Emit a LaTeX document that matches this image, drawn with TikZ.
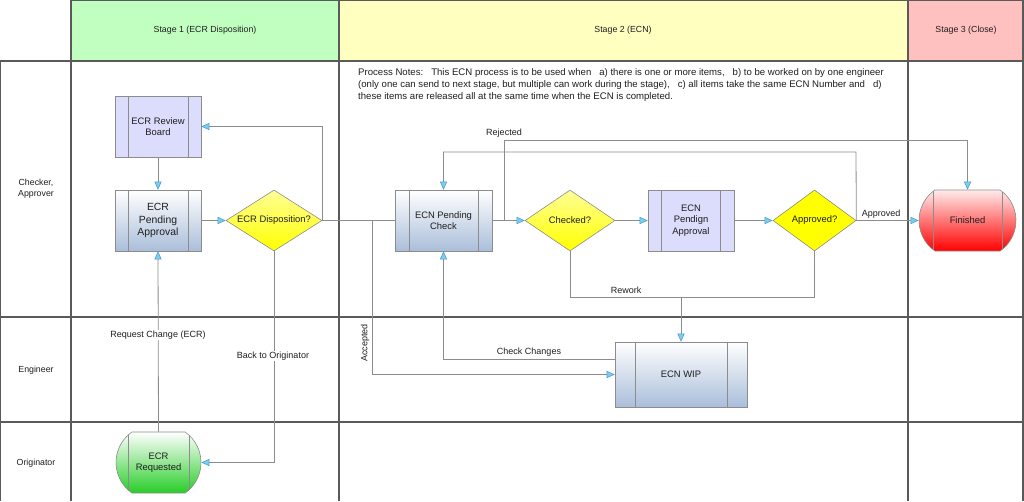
\documentclass[tikz,border=0pt]{standalone}
\usepackage{fontspec}
\setmainfont{Liberation Sans}
\usetikzlibrary{arrows.meta,shapes.geometric,shapes.misc}
\definecolor{linegray}{RGB}{140,140,140}
\definecolor{gridgray}{RGB}{90,90,90}
\definecolor{tipfill}{RGB}{120,205,240}
\definecolor{tipdraw}{RGB}{70,150,200}
\definecolor{lav}{RGB}{220,220,252}
\definecolor{steel}{RGB}{170,190,218}
\definecolor{hgreen}{RGB}{192,255,192}
\definecolor{hyellow}{RGB}{255,255,192}
\definecolor{hpink}{RGB}{255,192,192}
\definecolor{dyellow}{RGB}{255,255,0}
\definecolor{dyellowtop}{RGB}{255,255,150}
\definecolor{fred}{RGB}{255,0,0}
\definecolor{fredtop}{RGB}{255,235,235}
\definecolor{fgreen}{RGB}{40,205,40}
\definecolor{txt}{RGB}{30,30,30}
\begin{document}
\begin{tikzpicture}[x=1pt,y=-1pt,
  every node/.style={text=txt},
  base/.style={draw=linegray, line width=0.6pt, inner sep=0pt, align=center,
    font=\fontsize{9.4}{11.5}\selectfont},
  subp/.style={path picture={
    \draw[linegray, line width=0.6pt] ([xshift=#1]path picture bounding box.north west) -- ([xshift=#1]path picture bounding box.south west);
    \draw[linegray, line width=0.6pt] ([xshift=-#1]path picture bounding box.north east) -- ([xshift=-#1]path picture bounding box.south east);}},
  subp/.default=13pt,
  procbox/.style={base, rectangle},
  lavbox/.style={procbox, fill=lav},
  gradbox/.style={procbox, top color=white, bottom color=steel},
  decision/.style={base, diamond, aspect=1.57, top color=dyellowtop, bottom color=dyellow},
  terminal/.style={base, rounded rectangle, rounded rectangle arc length=110},
  flow/.style={draw=linegray, line width=0.8pt,
    -{Triangle[length=8pt,width=7pt,fill=tipfill,color=tipdraw,line width=0.5pt]}},
  plain/.style={draw=linegray, line width=0.8pt},
  lbl/.style={font=\fontsize{9}{11}\selectfont, inner sep=1pt},
  lblw/.style={lbl, fill=white},
  head/.style={font=\fontsize{8.8}{11}\selectfont},
  grid/.style={draw=gridgray, line width=1.1pt}
]
\useasboundingbox (0,0) rectangle (1024,501);
% header fills
\fill[hgreen] (71,0) rectangle (339,61);
\fill[hyellow] (339,0) rectangle (908,61);
\fill[hpink] (908,0) rectangle (1023,61);
% grid
\draw[grid] (71,0.5) -- (1023,0.5);
\draw[grid] (0,61) -- (1023,61);
\draw[grid] (0,317) -- (1023,317);
\draw[grid] (0,422) -- (1023,422);
\draw[grid] (71,0) -- (71,501);
\draw[grid] (339,0) -- (339,501);
\draw[grid] (908,0) -- (908,501);
\draw[grid] (1023,0) -- (1023,501);
\draw[grid] (0.5,61) -- (0.5,501);

% headers and lane labels
\node[head] (h1) at (205,30) {Stage 1 (ECR Disposition)};
\node[head] (h2) at (623,30) {Stage 2 (ECN)};
\node[head] (h3) at (966,30) {Stage 3 (Close)};
\node[head, align=center] (l1) at (36,189) {Checker,\\Approver};
\node[head] (l2) at (36,370) {Engineer};
\node[head] (l3) at (36,463) {Originator};

% notes
\node[anchor=north west, align=left, inner sep=0pt, font=\fontsize{9.6}{12}\selectfont] (notes) at (358,68.5)
{Process Notes:\ \ \ This ECN process is to be used when\ \ \ a) there is one or more items,\ \ \ b) to be worked on by one engineer\\
(only one can send to next stage, but multiple can work during the stage),\ \ \ c) all items take the same ECN Number and\ \ \ d)\\
these items are released all at the same time when the ECN is completed.};

% nodes
\node[lavbox, subp=13pt, minimum width=86pt, minimum height=61pt] (rb) at (158,126.5) {ECR Review\\Board};
\node[gradbox, subp=13pt, minimum width=86pt, minimum height=61pt, font=\fontsize{10.4}{12.5}\selectfont] (pa) at (158,220.5) {ECR\\Pending\\Approval};
\node[decision, minimum width=96pt, minimum height=61pt] (disp) at (274,220.5) {ECR Disposition?};
\node[gradbox, subp=14pt, minimum width=97pt, minimum height=61pt] (pc) at (443.5,220.5) {ECN Pending\\Check};
\node[decision, minimum width=90pt, minimum height=61pt] (chk) at (570,220.5) {Checked?};
\node[lavbox, subp=13.5pt, minimum width=86pt, minimum height=61pt] (epa) at (691,220.5) {ECN\\Pendign\\Approval};
\node[decision, fill=dyellow, top color=dyellow, bottom color=dyellow, minimum width=83pt, minimum height=61pt] (apr) at (814.5,220.5) {Approved?};
\node[terminal, subp=15pt, top color=fredtop, bottom color=fred, minimum width=97pt, minimum height=61pt] (fin) at (967.5,220.5) {Finished};
\node[gradbox, subp=20pt, minimum width=132pt, minimum height=65pt] (wip) at (681,374.5) {ECN WIP};
\node[terminal, subp=13pt, top color=white, bottom color=fgreen, minimum width=85pt, minimum height=61pt] (req) at (158.5,462.5) {ECR\\Requested};

% helper coordinates
\coordinate (acc) at (372,220.5);
\coordinate (rj) at (504,220.5);
\coordinate (rjtop) at (504,140);
\coordinate (aprtop) at (856,152);
\coordinate (rw) at (681,297);
\coordinate (cc) at (615,359);

% connectors
\draw[flow] (rb) -- (pa);
\draw[flow] (pa) -- (disp);
\draw[flow] (disp.east) |- (rb.east);
\draw[plain] (disp.east) -- (pc.west);
\draw[flow] (acc) |- (wip.west);
\node[lbl, rotate=90] (accl) at (365,343) {Accepted};
\draw[flow] (disp.south) |- (req.east);
\node[lblw] (bol) at (273,356) {Back to Originator};
\draw[flow] (req.north) -- (pa.south);
\node[lblw] (rcl) at (158,335) {Request Change (ECR)};
\draw[flow] (pc.east) -- (chk.west);
\draw[flow] (rj) -- (rjtop) -| (fin.north);
\node[lbl] (rjl) at (504,133) {Rejected};
\draw[flow] (apr.east) -- (aprtop) -| (pc.north);
\draw[flow] (chk) -- (epa);
\draw[flow] (epa) -- (apr);
\draw[flow] (apr) -- (fin);
\node[lbl] (apl) at (881,214) {Approved};
\draw[flow] (chk.south) |- (rw) -- (wip.north);
\draw[plain] (apr.south) |- (rw);
\node[lbl] (rwl) at (626,290) {Rework};
\draw[flow] (cc) -| (pc.south);
\node[lbl] (ccl) at (529,352) {Check Changes};
\end{tikzpicture}
\end{document}
